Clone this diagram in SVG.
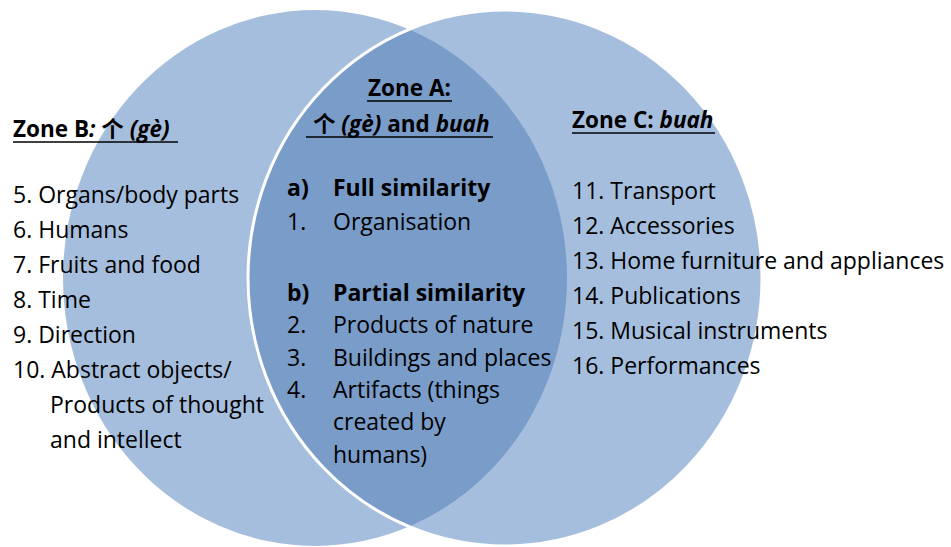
<svg xmlns="http://www.w3.org/2000/svg" width="951" height="547" viewBox="0 0 951 547">
<style>
text{font-family:"Open Sans","Noto Sans CJK SC",sans-serif;fill:#000;}
.b{font-size:23px;}
.t{font-size:22.5px;font-weight:bold;}
.bd{font-weight:bold;}
.i{font-style:italic;}
.cjk{font-family:"Noto Sans CJK SC",sans-serif;font-weight:bold;}
.ul{stroke:#000;stroke-width:1.6;}
.light{fill:#a6bedd;}
.dark{fill:#7a9cc9;}
</style>
<defs>
<clipPath id="clipR"><ellipse cx="505" cy="278" rx="257" ry="268"/></clipPath>
</defs>
<g id="circles">
<ellipse class="light" cx="315" cy="278" rx="252" ry="268"/>
<ellipse class="light" cx="505" cy="278" rx="257" ry="268"/>
<ellipse class="dark" cx="315" cy="278" rx="252" ry="268" clip-path="url(#clipR)"/>
<ellipse cx="505" cy="278" rx="257" ry="268" fill="none" stroke="#fff" stroke-width="3"/>
</g>
<g id="zoneB">
<text class="t" x="13" y="137">Zone B<tspan class="i">: </tspan><tspan class="cjk">个</tspan><tspan class="i"> (gè)</tspan></text>
<line class="ul" x1="13" y1="142" x2="178" y2="142"/>
<text class="b" x="13" y="203">5. Organs/body parts</text>
<text class="b" x="13" y="238">6. Humans</text>
<text class="b" x="13" y="273">7. Fruits and food</text>
<text class="b" x="13" y="308">8. Time</text>
<text class="b" x="13" y="343">9. Direction</text>
<text class="b" x="13" y="378">10. Abstract objects/</text>
<text class="b" x="50" y="413">Products of thought</text>
<text class="b" x="50" y="448">and intellect</text>
</g>
<g id="zoneA">
<text class="t" x="409.5" y="96" text-anchor="middle">Zone A:</text>
<line class="ul" x1="367" y1="101" x2="452" y2="101"/>
<text class="t" x="313" y="132"><tspan class="cjk">个</tspan><tspan class="i"> (gè)</tspan> and <tspan class="i">buah</tspan></text>
<line class="ul" x1="306" y1="137" x2="493" y2="137"/>
<text class="b bd" x="287" y="196">a)</text>
<text class="b bd" x="333" y="196">Full similarity</text>
<text class="b" x="287" y="230">1.</text>
<text class="b" x="333" y="230">Organisation</text>
<text class="b bd" x="287" y="301">b)</text>
<text class="b bd" x="333" y="301">Partial similarity</text>
<text class="b" x="287" y="333">2.</text>
<text class="b" x="333" y="333">Products of nature</text>
<text class="b" x="287" y="366">3.</text>
<text class="b" x="333" y="366">Buildings and places</text>
<text class="b" x="287" y="398">4.</text>
<text class="b" x="333" y="398">Artifacts (things</text>
<text class="b" x="333" y="430">created by</text>
<text class="b" x="333" y="463">humans)</text>
</g>
<g id="zoneC">
<text class="t" x="572" y="128">Zone C: <tspan class="i">buah</tspan></text>
<line class="ul" x1="572" y1="133" x2="715" y2="133"/>
<text class="b" x="572" y="199">11. Transport</text>
<text class="b" x="572" y="234">12. Accessories</text>
<text class="b" x="572" y="269">13. Home furniture and appliances</text>
<text class="b" x="572" y="304">14. Publications</text>
<text class="b" x="572" y="339">15. Musical instruments</text>
<text class="b" x="572" y="374">16. Performances</text>
</g>
</svg>
